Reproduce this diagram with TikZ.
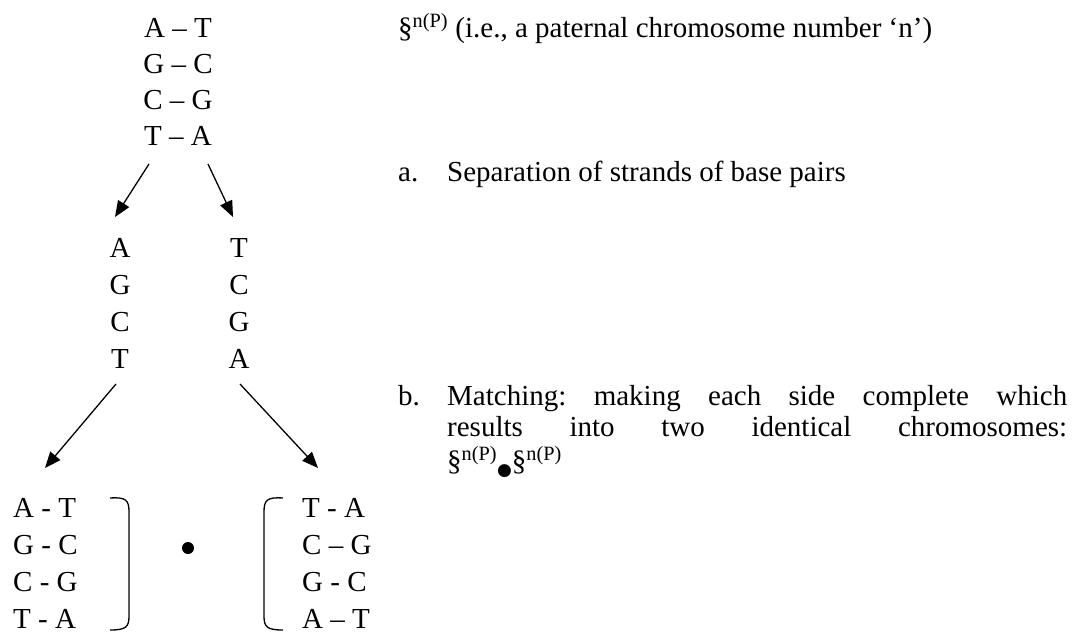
\documentclass[tikz,border=0pt]{standalone}
\usepackage{fontspec}
\setmainfont{Liberation Serif}
\newfontfamily\dejavu{DejaVu Sans}
\usetikzlibrary{arrows.meta}
\frenchspacing
\newcommand{\bigdot}{\raisebox{-5pt}{\dejavu\fontsize{17}{17}\selectfont ●}}
\begin{document}
\begin{tikzpicture}[x=1pt,y=-1pt,
  txt/.style={inner sep=0pt, font=\fontsize{29}{35}\selectfont\frenchspacing},
  conn/.style={line width=1.3pt, -{Triangle[length=16pt,width=13pt]}},
  brk/.style={line width=1.3pt}]
\useasboundingbox (0,0) rectangle (1080,633);
% top block
\node[txt, anchor=base] (t1) at (178,37) {A – T};
\node[txt, anchor=base] (t2) at (178,73) {G – C};
\node[txt, anchor=base] (t3) at (178,109) {C – G};
\node[txt, anchor=base] (t4) at (178,145) {T – A};
% first arrows
\coordinate (a1s) at (149,164);
\coordinate (a1e) at (115,217);
\coordinate (a2s) at (208,164);
\coordinate (a2e) at (233,217);
\draw[conn] (a1s) -- (a1e);
\draw[conn] (a2s) -- (a2e);
% separated strands
\node[txt, anchor=base] (l1) at (120,257) {A};
\node[txt, anchor=base] (l2) at (120,294) {G};
\node[txt, anchor=base] (l3) at (120,331) {C};
\node[txt, anchor=base] (l4) at (120,368) {T};
\node[txt, anchor=base] (r1) at (239,257) {T};
\node[txt, anchor=base] (r2) at (239,294) {C};
\node[txt, anchor=base] (r3) at (239,331) {G};
\node[txt, anchor=base] (r4) at (239,368) {A};
% second arrows
\coordinate (b1s) at (116,384);
\coordinate (b1e) at (45,468);
\coordinate (b2s) at (240,384);
\coordinate (b2e) at (318,468);
\draw[conn] (b1s) -- (b1e);
\draw[conn] (b2s) -- (b2e);
% bottom pairs
\node[txt, anchor=base west] (bl1) at (13,517) {A - T};
\node[txt, anchor=base west] (bl2) at (13,554) {G - C};
\node[txt, anchor=base west] (bl3) at (13,591) {C - G};
\node[txt, anchor=base west] (bl4) at (13,628) {T - A};
\node[txt, anchor=base west] (br1) at (302,517) {T - A};
\node[txt, anchor=base west] (br2) at (302,554) {C – G};
\node[txt, anchor=base west] (br3) at (302,591) {G - C};
\node[txt, anchor=base west] (br4) at (302,628) {A – T};
% brackets
\draw[brk] (110,498) .. controls (126,497) and (129,500) .. (129,512) -- (129,616) .. controls (129,627) and (126,630) .. (110,630);
\draw[brk] (283,498) .. controls (267,497) and (264,500) .. (264,512) -- (264,616) .. controls (264,627) and (267,630) .. (283,630);
\fill (188,548) circle (6);
% right-hand texts
\node[txt, anchor=base west] (title) at (398,37) {§\textsuperscript{n(P)} (i.e., a paternal chromosome number ‘n’)};
\node[txt, anchor=base west] (la) at (398,181) {a.};
\node[txt, anchor=base west] (ta) at (447,181) {Separation of strands of base pairs};
\node[txt, anchor=base west] (lb) at (398,405) {b.};
\node[txt, anchor=base west] (tb1) at (447,405) {\makebox[620pt][s]{Matching: making each side complete which}};
\node[txt, anchor=base west] (tb2) at (447,436) {\makebox[620pt][s]{results into two identical chromosomes:}};
\node[txt, anchor=base west] (tb3) at (447,470) {§\textsuperscript{n(P)}\bigdot§\textsuperscript{n(P)}};
\end{tikzpicture}
\end{document}
